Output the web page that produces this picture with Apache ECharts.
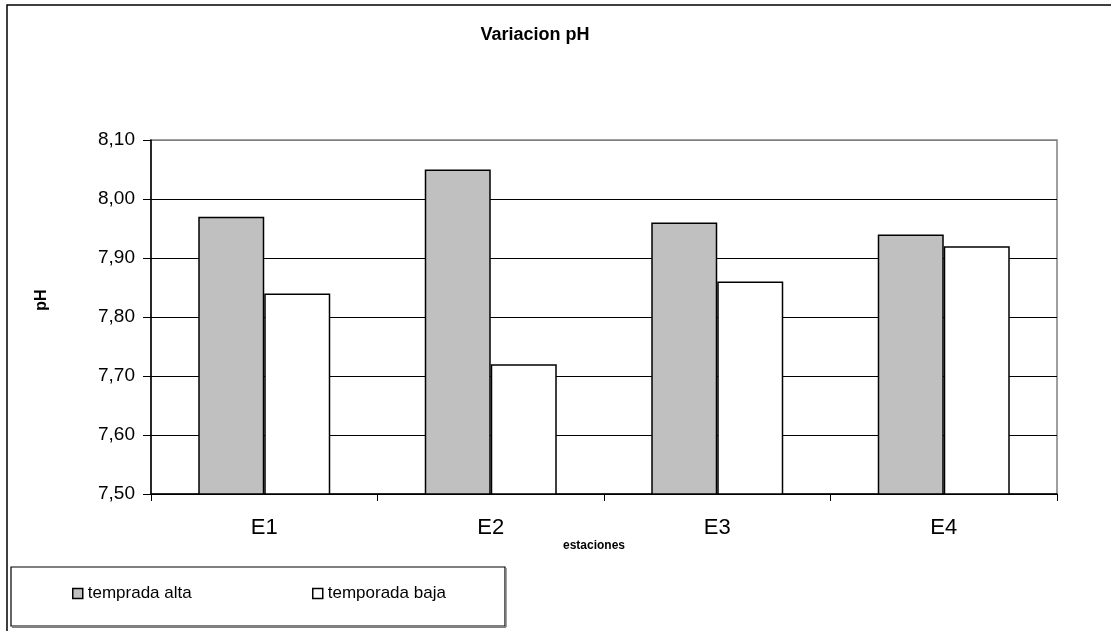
<!DOCTYPE html>
<html>
<head>
<meta charset="utf-8">
<script src="https://cdn.jsdelivr.net/npm/echarts@6/dist/echarts.min.js"></script>
<style>
html,body{margin:0;padding:0;background:#fff;}
#c{width:1111px;height:631px;}
</style>
</head>
<body>
<div id="c"></div>
<script>
var categories = ['E1', 'E2', 'E3', 'E4'];
var seriesNames = ['temprada alta', 'temporada baja'];
var altaValues = [7.97, 8.05, 7.96, 7.94];
var bajaValues = [7.84, 7.72, 7.86, 7.92];
var yMin = 7.5, yMax = 8.1, yStep = 0.1;
var titleText = 'Variacion pH';
var yAxisTitle = 'pH';
var xAxisTitle = 'estaciones';

var FONT = '"Liberation Sans", Arial, sans-serif';
var chart = echarts.init(document.getElementById('c'), null, {renderer: 'canvas'});

var splitColors = [];
for (var i = 0; i < 6; i++) splitColors.push('#000000');
splitColors.push('#808080');

chart.setOption({
  animation: false,
  backgroundColor: '#ffffff',
  title: {
    text: titleText,
    left: 530,
    top: 21,
    textAlign: 'center',
    textStyle: {fontFamily: FONT, fontSize: 18, fontWeight: 'bold', color: '#000'}
  },
  legend: [
    {
      data: [seriesNames[0]], left: 72, top: 585, padding: 0,
      icon: 'rect', itemWidth: 10, itemHeight: 10, itemGap: 6,
      itemStyle: {borderColor: '#000', borderWidth: 1.5},
      textStyle: {fontFamily: FONT, fontSize: 17, color: '#000'}
    },
    {
      data: [seriesNames[1]], left: 312, top: 585, padding: 0,
      icon: 'rect', itemWidth: 10, itemHeight: 10, itemGap: 6,
      itemStyle: {borderColor: '#000', borderWidth: 1.5},
      textStyle: {fontFamily: FONT, fontSize: 17, color: '#000'}
    }
  ],
  grid: {left: 151, right: 54, top: 140, bottom: 137, show: true, borderColor: '#808080', borderWidth: 1.5, containLabel: false},
  xAxis: {
    type: 'category',
    data: categories,
    axisLine: {lineStyle: {color: '#000', width: 1.5}},
    axisTick: {show: true, length: 7, lineStyle: {color: '#000', width: 1}},
    axisLabel: {fontFamily: FONT, fontSize: 22, color: '#000', margin: 23}
  },
  yAxis: {
    type: 'value',
    min: yMin, max: yMax, interval: yStep,
    axisLine: {show: true, lineStyle: {color: '#000', width: 1.5}},
    axisTick: {show: true, length: 8, lineStyle: {color: '#000', width: 1}},
    splitLine: {show: true, lineStyle: {color: splitColors, width: 1}},
    axisLabel: {
      fontFamily: FONT, fontSize: 19, color: '#000', margin: 16,
      formatter: function (v) { return v.toFixed(2).replace('.', ','); }
    }
  },
  series: [
    {
      name: seriesNames[0], type: 'bar', data: altaValues,
      barWidth: 66, barGap: '0%',
      itemStyle: {color: '#C0C0C0', borderColor: '#000', borderWidth: 1.5}
    },
    {
      name: seriesNames[1], type: 'bar', data: bajaValues,
      barWidth: 66, barGap: '0%',
      itemStyle: {color: '#FFFFFF', borderColor: '#000', borderWidth: 1.5}
    }
  ],
  graphic: [
    {type: 'rect', shape: {x: 7, y: 5, width: 1300, height: 800}, style: {fill: 'none', stroke: '#000', lineWidth: 1.5}, z: -10, silent: true},
    {type: 'rect', shape: {x: 11, y: 567, width: 494, height: 59}, style: {fill: '#fff', stroke: '#000', lineWidth: 1.2}, z: -5, silent: true},
    {type: 'line', shape: {x1: 12, y1: 627, x2: 506, y2: 627}, style: {stroke: '#808080', lineWidth: 2}, z: -4, silent: true},
    {type: 'line', shape: {x1: 506, y1: 568, x2: 506, y2: 627}, style: {stroke: '#808080', lineWidth: 1.5}, z: -4, silent: true},
    {type: 'text', x: 42, y: 300, rotation: Math.PI / 2, style: {text: yAxisTitle, fontFamily: FONT, fontSize: 16, fontWeight: 'bold', fill: '#000', textAlign: 'center', textVerticalAlign: 'middle'}},
    {type: 'text', x: 594, y: 546, style: {text: xAxisTitle, fontFamily: FONT, fontSize: 12, fontWeight: 'bold', fill: '#000', textAlign: 'center', textVerticalAlign: 'middle'}}
  ]
});
</script>
</body>
</html>
